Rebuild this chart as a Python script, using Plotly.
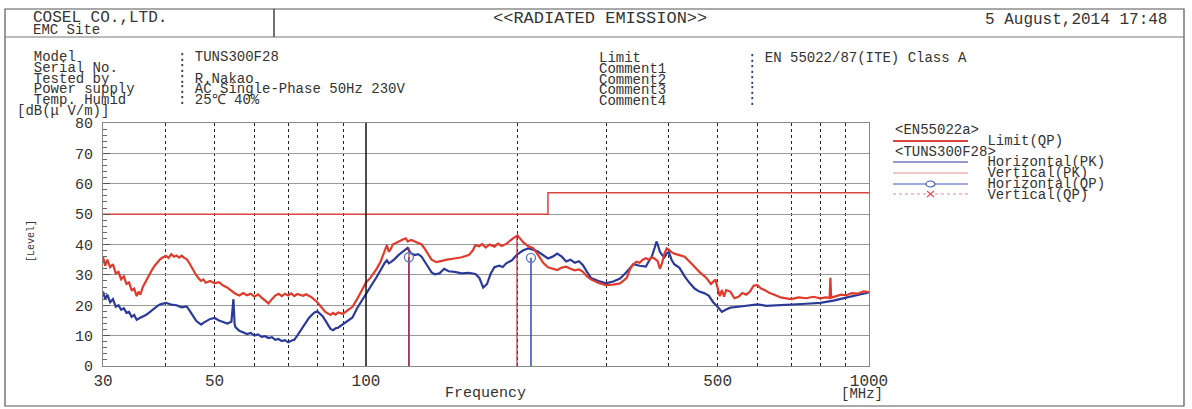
import plotly.graph_objects as go

# ---------------- data ----------------
freq_v = [30, 30.3, 30.6, 31, 31.4, 31.8, 32.2, 32.6, 33, 33.4, 33.8, 34.2, 34.6, 35, 35.3, 35.6, 36, 36.5, 37, 37.5,
          38, 38.5, 39, 39.5, 40, 40.5, 41, 41.5, 42, 42.5, 43, 43.5, 44, 44.5, 45, 45.5, 46, 46.5, 47, 47.5,
          48, 49, 50, 51, 52, 53, 54, 55, 56, 57, 58, 59, 60, 61, 62, 63, 64, 65, 66, 67,
          68, 69, 70, 71, 72, 73, 75, 76, 78, 80, 81, 82, 83, 85, 86, 87, 88, 90, 92, 94,
          96, 98, 100, 102, 105, 107, 109, 110, 111, 112, 113, 115, 117, 119, 120, 121, 123, 125, 127, 129,
          131, 133, 135, 138, 140, 145, 150, 155, 160, 163, 165, 168, 170, 173, 176, 180, 183, 186, 190, 193,
          196, 200, 203, 206, 210, 215, 220, 225, 230, 235, 240, 245, 250, 255, 260, 265, 270, 275, 280, 290,
          300, 310, 320, 330, 335, 340, 345, 350, 355, 360, 365, 370, 375, 380, 384, 388, 392, 396, 400, 405,
          410, 420, 430, 445, 460, 475, 485, 495, 505, 510, 515, 520, 530, 540, 550, 560, 570, 580, 590, 600,
          610, 620, 635, 650, 670, 700, 725, 750, 775, 800, 820, 835, 838, 841, 860, 880, 900, 925, 950, 975, 1000]
vert_pk = [36, 33, 35, 32.5, 33.5, 30.5, 31, 28.5, 29.5, 27, 27.5, 25, 25.5, 23, 24.5, 23.5, 26, 28, 30, 31.5,
           33, 34, 35.2, 35.8, 36.3, 35.6, 36.8, 36, 36.4, 35.7, 36.3, 35.6, 35.2, 34, 32.5, 31, 29.8, 28.8, 28, 28.5,
           27.4, 28, 27.2, 27.6, 26.5, 25.8, 24.8, 23.8, 23.2, 24, 23.3, 23.8, 22.8, 23.6, 22.5, 21.5, 20.6, 22, 23.2, 23.8,
           23, 23.8, 23.2, 23.9, 23, 23.7, 23.1, 23.6, 22.6, 21, 19.8, 19, 17.8, 16.8, 17.5, 16.9, 17.6, 17.2, 18.3, 19.5,
           22, 25, 27.5, 29, 32, 34.5, 38, 39.8, 37.6, 38.5, 40, 40.5, 41.2, 41.8, 42, 41, 41.5, 41, 40.6, 40,
           38.5, 36.5, 35, 34.2, 34.5, 35, 35.4, 35.8, 36.5, 38, 39.8, 39.4, 40.2, 39, 40, 39.3, 40.3, 39.5, 40.2, 41.2,
           42, 43, 41.8, 40.5, 39.5, 38.8, 36.5, 34, 32.5, 32, 31.6, 32.4, 32.7, 32, 31.5, 31.8, 31, 29.5, 28.5, 27.3,
           26.6, 26.8, 27.2, 29, 32, 33.5, 34.3, 34, 35, 35.5, 35, 35.8, 35.3, 34.5, 32, 34, 37, 38.7, 38.3, 37.5,
           37, 36.5, 36, 33.5, 31, 29, 27, 28.5, 23, 25, 22.8, 25, 24.5, 22.3, 22.8, 24, 23.5, 24.5, 26.5, 26.6,
           25.5, 25, 24, 23.4, 22.5, 22, 22.6, 22.3, 22.8, 22.3, 22.6, 22.4, 29, 22.5, 23, 23.5, 23.3, 24, 23.8, 24.6, 24.3]

freq_h = [30, 30.3, 30.6, 31, 31.4, 31.8, 32.2, 32.6, 33, 33.4, 33.8, 34.2, 34.6, 35, 35.5, 36, 36.5, 37, 37.5, 38,
          38.5, 39, 40, 41, 42, 43, 44, 44.5, 45, 45.5, 46, 47, 47.5, 48, 49, 50, 51, 52, 53, 54,
          54.5, 54.8, 55, 56, 57, 58, 59, 60, 61, 62, 63, 64, 65, 66, 67, 68, 69, 70, 71, 72,
          73, 74, 75, 76, 77, 78, 79, 80, 81, 82, 83, 84, 85, 86, 87, 88, 89, 90, 92, 94,
          96, 98, 100, 102, 105, 107, 109, 110, 111, 112, 114, 116, 118, 120, 121, 122, 123, 125, 127, 129,
          131, 133, 135, 137, 140, 143, 146, 150, 155, 160, 165, 168, 171, 174, 177, 180, 184, 187, 190, 195,
          200, 205, 210, 215, 220, 225, 230, 235, 240, 245, 250, 255, 260, 265, 270, 275, 280, 290, 300, 310,
          320, 330, 340, 350, 360, 365, 370, 375, 378, 381, 384, 388, 392, 396, 400, 405, 410, 420, 430, 440,
          450, 460, 470, 480, 490, 500, 505, 510, 520, 530, 550, 575, 600, 625, 650, 700, 750, 800, 850, 900,
          950, 1000]
horiz_pk = [24.5, 22, 23.5, 21, 22, 19.5, 20, 18.5, 19, 17.5, 17.8, 16.2, 16.8, 15.2, 15.8, 16.2, 16.8, 17.5, 18.3, 19,
            19.8, 20.3, 20.8, 20.2, 20, 19.3, 19.6, 18.5, 17, 16, 14.8, 13.6, 14.2, 14.6, 15.5, 15.8, 15, 14.5, 14, 14.6,
            22, 13.8, 12.8, 11.6, 11, 10.5, 10.9, 10, 10.4, 9.6, 9.8, 9.2, 9.5, 8.6, 8.9, 8.2, 8.5, 7.8, 8.3, 8.6,
            10, 11.5, 13, 14.5, 15.8, 16.8, 17.6, 18, 17.2, 16.4, 15, 13.5, 12.2, 11.8, 12.4, 12.6, 13.2, 13.8, 14.8, 16,
            19, 21.5, 24, 26, 29.3, 31.8, 34, 34.8, 33.8, 34.2, 35.2, 36.5, 37.5, 38.5, 38.9, 37.8, 37, 36.5, 36.8, 36,
            34, 32.5, 30.8, 30.2, 30.5, 32, 31.2, 31, 30.5, 30.7, 30.3, 29, 25.8, 27, 30.5, 32.5, 33, 32.6, 33.8, 34.8,
            36.8, 38, 38.7, 38.3, 37.6, 36.5, 35.4, 36, 37, 36, 34.4, 35, 34, 34.5, 33.2, 31, 29, 28, 27.2, 27.8,
            28.8, 31, 33.5, 33, 32.7, 34.5, 36, 39, 41, 39.5, 37.6, 36.5, 35.8, 37, 37.5, 35, 33.5, 32.3, 29.5, 27.3,
            25.5, 24.5, 24, 23.2, 21, 19.5, 18.5, 17.8, 18.6, 19.2, 19.5, 20, 20.3, 19.8, 20, 20.2, 20.5, 20.8, 21.5, 22.5,
            23.5, 24.2]

limit_freq = [30, 230, 1000]
limit_qp = [50, 57, 57]

qp_freq_h = [121.7, 212.8]
qp_h = [35.8, 35.6]
qp_freq_v = [121.7, 199.6]
qp_v = [39.0, 42.8]

x_tick_vals = [30, 50, 100, 500, 1000]
x_tick_text = ["30", "50", "100", "500", "1000"]
x_minor_grid = [40, 50, 60, 70, 80, 90, 200, 300, 400, 500, 600, 700, 800, 900]

info_lbl = ["Model", "Serial No.", "Tested by", "Power supply", "Temp. Humid"]
info_val = [": TUNS300F28", ":", ": R.Nakao", ": AC Single-Phase 50Hz 230V", ": 25℃ 40%"]
cm_lbl = ["Limit", "Comment1", "Comment2", "Comment3", "Comment4"]
cm_val = [": EN 55022/87(ITE) Class A", ":", ":", ":", ":"]
legend_lines = ["<EN55022a>", "Limit(QP)", "<TUNS300F28>", "Horizontal(PK)", "Vertical(PK)",
                "Horizontal(QP)", "Vertical(QP)"]
legend_indent = [0, 11, 0, 11, 11, 11, 11]

# ---------------- styling ----------------
RED = "#e03a2a"
BLUE = "#2b3a98"
LIMIT = "#d8453c"
TXT = "#333333"
FONT = "Liberation Mono"
NB = "\u00a0"

W, H = 1192, 409
L, R, T, B = 103, 869, 123, 366


def px(x):
    return (x - L) / (R - L)


def py(y):
    return (B - y) / (B - T)


def esc(s):
    return s.replace("<", "&lt;").replace(">", "&gt;")


def block(lines, size):
    return "<br>".join('<span style="font-size:%dpx">%s</span>' % (size, esc(l)) for l in lines)


fig = go.Figure()

fig.add_trace(go.Scatter(x=limit_freq, y=limit_qp, mode="lines", line_shape="hv",
                         line=dict(color=LIMIT, width=1.5), showlegend=False))
fig.add_trace(go.Scatter(x=freq_h, y=horiz_pk, mode="lines",
                         line=dict(color=BLUE, width=2.2), showlegend=False))
fig.add_trace(go.Scatter(x=freq_v, y=vert_pk, mode="lines",
                         line=dict(color=RED, width=2.2), showlegend=False))

sx_h, sy_h = [], []
for f, v in zip(qp_freq_h, qp_h):
    sx_h += [f, f, None]
    sy_h += [0, v, None]
sx_v, sy_v = [], []
for f, v in zip(qp_freq_v, qp_v):
    sx_v += [f, f, None]
    sy_v += [0, v, None]
fig.add_trace(go.Scatter(x=sx_h, y=sy_h, mode="lines", line=dict(color="#3a56b8", width=1.6),
                         showlegend=False, connectgaps=False))
fig.add_trace(go.Scatter(x=sx_v, y=sy_v, mode="lines", line=dict(color="#c8283a", width=1.6),
                         opacity=0.75, showlegend=False, connectgaps=False))
fig.add_trace(go.Scatter(x=qp_freq_h, y=qp_h, mode="markers",
                         marker=dict(symbol="circle-open", size=9, color="#5a78c8", line=dict(width=1.3)),
                         showlegend=False))

fig.add_vline(x=100, line=dict(color="#111", width=1.5), layer="above")

fig.update_xaxes(type="log", range=[1.4771, 3.0], tickvals=x_tick_vals, ticktext=x_tick_text,
                 showgrid=False, ticks="", showline=True, linecolor="#888", linewidth=1, mirror=True,
                 tickfont=dict(family=FONT, size=16, color=TXT),
                 minor=dict(tickvals=x_minor_grid, showgrid=True, gridcolor="#222", griddash="dot",
                            gridwidth=1.2, ticks=""),
                 zeroline=False)
fig.update_yaxes(range=[0, 80], dtick=10, showgrid=True, gridcolor="#9a9a9a", gridwidth=1,
                 ticks="inside", ticklen=7, tickcolor="#555", showline=True, linecolor="#888",
                 mirror=True, tickfont=dict(family=FONT, size=15, color=TXT), ticklabelstandoff=6,
                 minor=dict(dtick=2, ticks="inside", ticklen=4, tickcolor="#666", showgrid=False),
                 zeroline=False)

shapes = []
shapes.append(dict(type="line", xref="paper", yref="paper", x0=0, x1=0, y0=0, y1=1,
                   line=dict(color="#444", width=1)))
shapes.append(dict(type="rect", xref="paper", yref="paper", x0=px(5), x1=px(1184), y0=py(406), y1=py(9),
                   line=dict(color="#555", width=1.2)))
shapes.append(dict(type="line", xref="paper", yref="paper", x0=px(5), x1=px(1184), y0=py(37), y1=py(37),
                   line=dict(color="#777", width=1)))
shapes.append(dict(type="line", xref="paper", yref="paper", x0=px(274), x1=px(274), y0=py(37), y1=py(9),
                   line=dict(color="#444", width=1.5)))

lx0, lx1 = px(893), px(968)
shapes.append(dict(type="line", xref="paper", yref="paper", x0=lx0, x1=lx1, y0=py(141), y1=py(141),
                   line=dict(color=LIMIT, width=2)))
shapes.append(dict(type="line", xref="paper", yref="paper", x0=lx0, x1=lx1, y0=py(162), y1=py(162),
                   line=dict(color=BLUE, width=1)))
shapes.append(dict(type="line", xref="paper", yref="paper", x0=lx0, x1=lx1, y0=py(173), y1=py(173),
                   line=dict(color="#e88a86", width=1)))
shapes.append(dict(type="line", xref="paper", yref="paper", x0=lx0, x1=lx1, y0=py(184), y1=py(184),
                   line=dict(color="#3c5cb8", width=1)))
shapes.append(dict(type="circle", xref="paper", yref="paper", x0=px(926), x1=px(935), y0=py(187), y1=py(181),
                   line=dict(color="#3c5cb8", width=1.2), fillcolor="white"))
shapes.append(dict(type="line", xref="paper", yref="paper", x0=lx0, x1=lx1, y0=py(194), y1=py(194),
                   line=dict(color="#e88a86", width=1, dash="dot")))
# legend x marker (two short strokes)
shapes.append(dict(type="line", xref="paper", yref="paper", x0=px(927), x1=px(934), y0=py(191), y1=py(197),
                   line=dict(color="#e05060", width=1.2)))
shapes.append(dict(type="line", xref="paper", yref="paper", x0=px(927), x1=px(934), y0=py(197), y1=py(191),
                   line=dict(color="#e05060", width=1.2)))
fig.update_layout(shapes=shapes)

anns = []


def ann(x, y, text, size=14, anchor="left", angle=0, color=TXT, yanchor="middle"):
    anns.append(dict(xref="paper", yref="paper", x=px(x), y=py(y), text=text, showarrow=False,
                     xanchor=anchor, yanchor=yanchor, textangle=angle, align="left",
                     font=dict(family=FONT, size=size, color=color)))


PITCH = 10.75
BASE = PITCH / 1.3

ann(31, 23, block(["COSEL CO.,LTD.", "EMC Site"], 16).replace("font-size:16px\">EMC", "font-size:14px\">EMC"),
    12 / 1.3)
ann(600, 19, "&lt;&lt;RADIATED EMISSION&gt;&gt;", 17, "center")
ann(1169, 20, "5 August,2014 17:48", 16, "right")

left_lines = [NB * 2 + s for s in info_lbl] + ["[dB(μ V/m)]"]
ann(15, (57 + 110.75) / 2, block(left_lines, 14), BASE)
ann(176, (57 + 100) / 2, block(info_val, 14), BASE)
ann(597, (58 + 101) / 2, block(cm_lbl, 14), BASE)
ann(746, (58 + 101) / 2, block(cm_val, 14), BASE)

ann(31, 241, "[Level]", 10, "center", -90)
ann(485, 393, "Frequency", 15, "center")
ann(862, 394, "[MHz]", 14, "center")

leg = [NB * n + s for n, s in zip(legend_indent, legend_lines)]
ann(893, (130 + 194.5) / 2, block(leg, 14), BASE)

for a in anns:
    fig.add_annotation(**a)

fig.update_layout(width=W, height=H,
                  margin=dict(l=L, r=W - R, t=T, b=H - B, pad=0),
                  paper_bgcolor="white", plot_bgcolor="white", showlegend=False)

fig.write_html("out.html", config={"displayModeBar": False},
               post_script="document.body.style.margin='0';")
